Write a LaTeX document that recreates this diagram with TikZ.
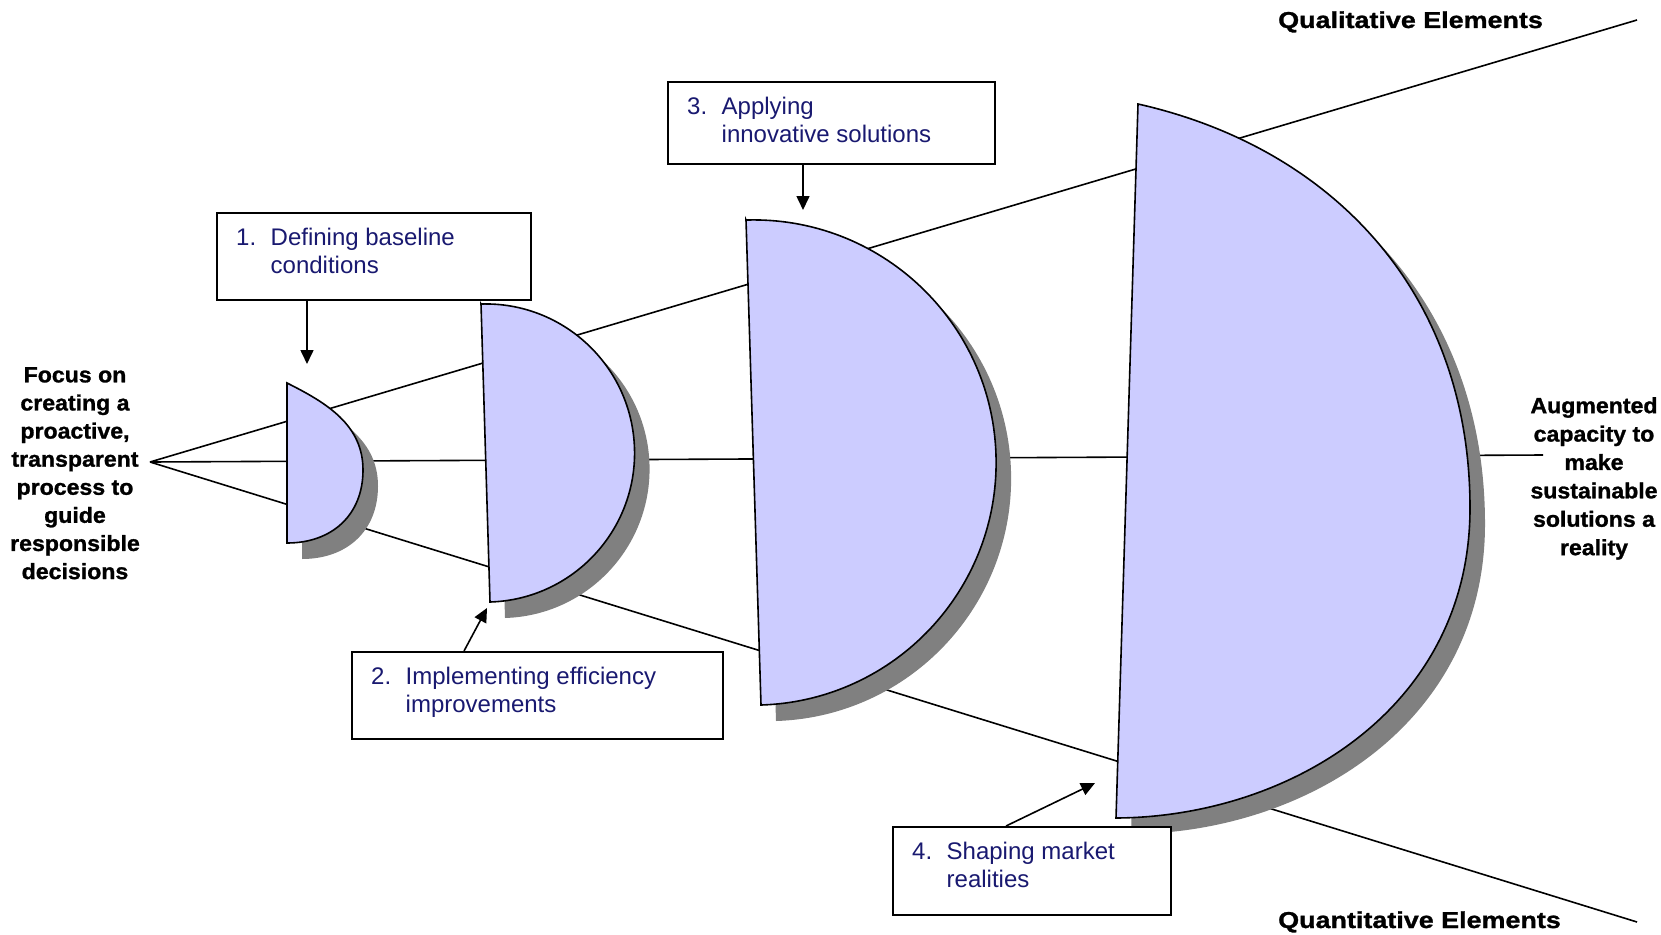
\documentclass[tikz,border=0pt]{standalone}
\usepackage{fontspec}
\setmainfont{Liberation Sans}
\newfontfamily\titlefont[FakeStretch=1.17,FakeBold=1.2]{Liberation Sans}
\newfontfamily\sidefont[FakeStretch=1.05,FakeBold=1.2]{Liberation Sans}
\usetikzlibrary{arrows.meta,calc}

\definecolor{lav}{RGB}{204,204,255}
\definecolor{shadowgray}{RGB}{128,128,128}
\definecolor{navytext}{RGB}{25,25,112}

\begin{document}
\begin{tikzpicture}[x=1pt,y=-1pt,
  funnel/.style={line width=1.6pt, draw=black},
  halfdisc/.style={fill=lav, draw=black, line width=1.6pt, line join=miter,
    preaction={fill=shadowgray, transform canvas={shift={(15pt,-16pt)}}}},
  stepframe/.style={draw=black, line width=1.8pt, fill=white, inner sep=0pt,
    anchor=north west},
  steptext/.style={inner sep=0pt, anchor=north west, align=left, text=navytext,
    font=\fontsize{24}{27.5}\selectfont},
  sidetext/.style={inner sep=0pt, anchor=north, align=center,
    font=\sidefont\bfseries},
  heading/.style={inner sep=0pt, anchor=base west,
    font=\titlefont\bfseries\fontsize{23}{27}\selectfont},
  pointer/.style={line width=1.6pt, -{Triangle[length=14pt,width=13pt]}},
]
\fill[white] (0,0) rectangle (1661,934);
\useasboundingbox (0,0) rectangle (1661,934);

% funnel lines radiating from the focus point
\coordinate (focus) at (150,462);
\coordinate (qualend) at (1637,20);
\coordinate (quantend) at (1637,922);
\coordinate (midend) at (1543,455);
\draw[funnel] (focus) -- (qualend);
\draw[funnel] (focus) -- (midend);
\draw[funnel] (focus) -- (quantend);

% growing half discs
\draw[halfdisc] (287,383) -- (287,543)
  .. controls (332,543) and (363,515) .. (363,470)
  .. controls (363,425) and (327,403) .. cycle;
\draw[halfdisc] (481,304) -- (490,602)
  arc[start angle=88.27, end angle=-91.73, radius=149.07] -- cycle;
\draw[halfdisc] (746,220) -- (761,705)
  arc[start angle=88.23, end angle=-91.77, radius=242.6] -- cycle;
\draw[halfdisc] (1138,104) -- (1116,818)
  .. controls (1290,817) and (1470,708) .. (1470,508)
  .. controls (1470,293) and (1333,148) .. cycle;

% step boxes
\node[stepframe, minimum width=314pt, minimum height=87pt] (b1) at (216,212) {};
\node[stepframe, minimum width=371pt, minimum height=87pt] (b2) at (351,651) {};
\node[stepframe, minimum width=327pt, minimum height=82pt] (b3) at (667,81) {};
\node[stepframe, minimum width=278pt, minimum height=88pt] (b4) at (892,826) {};

\node[steptext] (t1) at ($(b1.north west)+(20,16)$)
  {\makebox[34.5pt][l]{1.}Defining baseline\\\hspace*{34.5pt}conditions};
\node[steptext] (t2) at ($(b2.north west)+(20,16)$)
  {\makebox[34.5pt][l]{2.}Implementing efficiency\\\hspace*{34.5pt}improvements};
\node[steptext] (t3) at ($(b3.north west)+(20,16)$)
  {\makebox[34.5pt][l]{3.}Applying\\\hspace*{34.5pt}innovative solutions};
\node[steptext] (t4) at ($(b4.north west)+(20,16)$)
  {\makebox[34.5pt][l]{4.}Shaping market\\\hspace*{34.5pt}realities};

% pointers from the boxes to the discs
\coordinate (tip1) at (307,364);
\coordinate (tip2) at (487,608);
\coordinate (tip3) at (803,210);
\coordinate (tip4) at (1095,783);
\draw[pointer] (b1.south -| tip1) -- (tip1);
\draw[pointer] ($(b2.north west)+(113,0)$) -- (tip2);
\draw[pointer] (b3.south -| tip3) -- (tip3);
\draw[pointer] ($(b4.north west)+(114,0)$) -- (tip4);

% side captions
\node[sidetext, font=\sidefont\bfseries\fontsize{22}{28.1}\selectfont] (focustext) at (75,367)
  {Focus on\\creating a\\proactive,\\transparent\\process to\\guide\\responsible\\decisions};
\node[sidetext, font=\sidefont\bfseries\fontsize{22}{28.4}\selectfont] (goaltext) at (1594,397)
  {Augmented\\capacity to\\make\\sustainable\\solutions a\\reality};

\node[heading] (qual) at (1278,28) {Qualitative Elements};
\node[heading] (quant) at (1278,928) {Quantitative Elements};
\end{tikzpicture}
\end{document}
